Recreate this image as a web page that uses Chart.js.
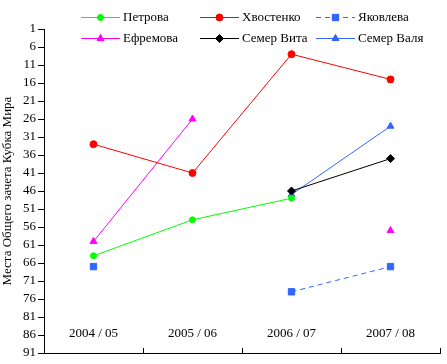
<!DOCTYPE html>
<html>
<head>
<meta charset="utf-8">
<script src="https://cdn.jsdelivr.net/npm/chart.js@4/dist/chart.umd.min.js"></script>
<style>
    html, body { margin: 0; padding: 0; background: #fff; }
    #wrap { width: 447px; height: 364px; }
</style>
</head>
<body>
<div id="wrap"><canvas id="placesChart" width="447" height="364"></canvas></div>
<script>
// Data
const seasons = ['2004 / 05', '2005 / 06', '2006 / 07', '2007 / 08'];
const petrova = [64, 54, 48, null];
const khvostenko = [33, 41, 8, 15];
const yakovleva = [67, null, 74, 67];
const efremova = [60, 26, null, 57];
const semerVita = [null, null, 46, 37];
const semerValya = [null, null, 47, 28];

const FONT = "'Liberation Serif', 'Times New Roman', serif";

// Legend drawn in fixed 3-column grid like the original
const legendGrid = {
    id: 'legendGrid',
    afterDraw(chart) {
        const ctx = chart.ctx;
        const cols = [81, 200, 316];
        const rows = [17, 38];
        ctx.save();
        chart.data.datasets.forEach((ds, i) => {
            const x = cols[i % 3];
            const y = rows[Math.floor(i / 3)];
            ctx.strokeStyle = ds.borderColor;
            ctx.lineWidth = 1;
            ctx.setLineDash(ds.borderDash || []);
            ctx.beginPath();
            ctx.moveTo(x, y + 0.5);
            ctx.lineTo(x + 39, y + 0.5);
            ctx.stroke();
            ctx.setLineDash([]);
            ctx.fillStyle = ds.backgroundColor;
            Chart.helpers.drawPoint(ctx, {
                pointStyle: ds.pointStyle,
                radius: ds.pointRadius,
                rotation: 0,
                borderWidth: 1
            }, x + 19.5, y + 0.5);
            ctx.fill();
            ctx.fillStyle = '#000';
            ctx.font = '13px ' + FONT;
            ctx.textBaseline = 'middle';
            ctx.textAlign = 'left';
            ctx.fillText(ds.label, x + 42, y + 1);
        });
        ctx.restore();
    }
};

function series(label, data, color, pointStyle, radius, dash) {
    return {
        label: label,
        data: data,
        borderColor: color,
        backgroundColor: color,
        pointBackgroundColor: color,
        pointBorderColor: color,
        borderWidth: 1,
        borderDash: dash,
        pointStyle: pointStyle,
        pointRadius: radius,
        pointHoverRadius: radius,
        tension: 0,
        spanGaps: false
    };
}

new Chart(document.getElementById('placesChart'), {
    type: 'line',
    data: {
        labels: seasons,
        datasets: [
            series('Петрова', petrova, '#00ff00', 'circle', 3),
            series('Хвостенко', khvostenko, '#ff0000', 'circle', 3.5),
            series('Яковлева', yakovleva, '#3366ff', 'rect', 4.5, [5, 4]),
            series('Ефремова', efremova, '#ff00ff', 'triangle', 4),
            series('Семер Вита', semerVita, '#000000', 'rectRot', 4),
            series('Семер Валя', semerValya, '#3366ff', 'triangle', 4)
        ]
    },
    options: {
        responsive: false,
        animation: false,
        layout: { padding: { top: 29, right: 7, left: 0, bottom: 0 } },
        plugins: {
            legend: { display: false },
            tooltip: { enabled: false }
        },
        scales: {
            x: {
                position: 'bottom',
                offset: true,
                grid: {
                    offset: true,
                    drawOnChartArea: false,
                    tickLength: -5,
                    color: '#000'
                },
                border: { color: '#000', width: 1 },
                ticks: {
                    color: '#000',
                    mirror: true,
                    padding: 12,
                    maxRotation: 0,
                    font: { family: FONT, size: 13 }
                },
                afterFit(scale) { scale.height = 11; }
            },
            y: {
                reverse: true,
                min: 1,
                max: 91,
                grid: {
                    drawOnChartArea: false,
                    tickLength: 6,
                    color: '#000'
                },
                border: { color: '#000', width: 1 },
                title: {
                    display: true,
                    text: 'Места Общего зачета Кубка Мира',
                    color: '#000',
                    padding: 0,
                    font: { family: FONT, size: 13 }
                },
                ticks: {
                    stepSize: 5,
                    autoSkip: false,
                    color: '#000',
                    padding: 2,
                    font: { family: FONT, size: 13 }
                },
                afterFit(scale) { scale.width = 44; }
            }
        }
    },
    plugins: [legendGrid]
});
</script>
</body>
</html>
